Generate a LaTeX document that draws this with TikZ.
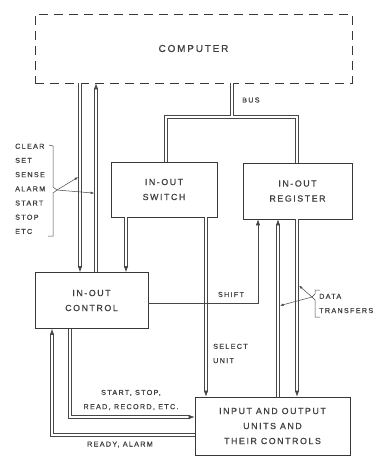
\documentclass[tikz,border=0pt]{standalone}
\usepackage{fontspec}
\setmainfont{Liberation Sans}[LetterSpace=18,FakeBold=0.8]
\usetikzlibrary{arrows.meta,calc}
\begin{document}
\begin{tikzpicture}[x=1pt,y=-1pt,
  box/.style={draw=black!78,line width=0.75pt,align=center,inner sep=0pt,text=black!75,
    font=\fontsize{8.8}{15}\selectfont},
  dbl/.style={draw=black!72,line width=0.7pt,double=white,double distance=2.3pt},
  sgl/.style={draw=black!72,line width=0.7pt},
  thin/.style={draw=black!72,line width=0.5pt},
  lbl/.style={inner sep=0pt,text=black!75,font=\fontsize{7.2}{14.2}\selectfont},
  >={Latex[length=6pt,width=4.6pt]},
  sm/.style={-{Latex[length=3.6pt,width=2.6pt]}}
]
\useasboundingbox (0,0) rectangle (377,456);

% boxes
\node[box,dashed,dash pattern=on 9pt off 6pt,minimum width=317pt,minimum height=69pt,
  font=\fontsize{10}{12}\selectfont] (comp) at (193.5,48.5) {COMPUTER};
\node[box,minimum width=106pt,minimum height=55pt] (sw) at (164,189.5) {IN-OUT\\SWITCH};
\node[box,minimum width=109pt,minimum height=56pt] (reg) at (297.5,191) {IN-OUT\\REGISTER};
\node[box,minimum width=113pt,minimum height=56pt] (ctl) at (91.5,300.5) {IN-OUT\\CONTROL};
\node[box,minimum width=155pt,minimum height=58pt] (io) at (272.5,426) {INPUT AND OUTPUT\\UNITS AND\\THEIR CONTROLS};

% coordinates for vertical runs
\coordinate (xa) at (80,0);
\coordinate (xb) at (96,0);
\coordinate (xc) at (126,0);
\coordinate (xd) at (206,0);
\coordinate (xe) at (278,0);
\coordinate (xf) at (297,0);
\coordinate (bj) at (232,116.2);
\coordinate (bl) at (166,117);
\coordinate (br) at (297,117);
\coordinate (sh) at (258,303);
\coordinate (p1) at (70,417);
\coordinate (p2) at (52,435);

% bus
\draw[dbl] (sw.north -| bl) -- (bl) -- (br) -- (reg.north -| br);
\draw[dbl] (comp.south -| bj) -- (bj);
\node[lbl,anchor=west] (bus) at (242,100) {BUS};

% computer <-> control
\draw[dbl,->] (comp.south -| xa) -- (ctl.north -| xa);
\draw[dbl,->] (ctl.north -| xb) -- (comp.south -| xb);

% switch -> control, switch -> io
\draw[dbl,->] (sw.south -| xc) -- (ctl.north -| xc);
\draw[dbl,->] (sw.south -| xd) -- (io.north -| xd);
\node[lbl,anchor=west,align=left] (sel) at (213,353.5) {SELECT\\UNIT};

% shift
\draw[sgl,->] (ctl.east |- sh) -- (sh) -- (reg.south -| sh);
\node[lbl] (shift) at (231,294.5) {SHIFT};

% register <-> io
\draw[dbl,->] (io.north -| xe) -- (reg.south -| xe);
\draw[dbl,->] (reg.south -| xf) -- (io.north -| xf);

% control <-> io (bottom left)
\draw[dbl,->] (ctl.south -| p1) -- (p1) -- (p1 -| io.west);
\draw[dbl,->] (p2 -| io.west) -- (p2) -- (ctl.south -| p2);
\node[lbl,align=center] (ssr) at (131,400) {START, STOP,\\READ, RECORD, ETC.};
\node[lbl] (ready) at (120,444.5) {READY, ALARM};

% left signal list with brace
\node[lbl,anchor=north west,align=left] (sig) at (15,143.5) {CLEAR\\SET\\SENSE\\ALARM\\START\\STOP\\ETC};
\coordinate (lb) at (57,190);
\draw[thin] (49,145) -- (53,146) -- (53,187) -- (lb) -- (53,193) -- (53,236) -- (48,236);
\draw[thin,sm] (lb) -- ($(ctl.north -| xa) + (-1.8,-95)$);
\draw[thin,sm] (lb) -- ($(ctl.north -| xb) + (-1.8,-79)$);

% data transfers with bracket
\node[lbl,anchor=west,align=left] (dt) at (319,303.5) {DATA\\TRANSFERS};
\coordinate (rb) at (312,297);
\draw[thin] (320,290) -- (315,290) -- (315,294) -- (rb) -- (315,300) -- (315,317) -- (320,317);
\draw[thin,sm] (rb) -- ($(io.north -| xf) + (2,-111)$);
\draw[thin,sm] (rb) -- ($(io.north -| xe) + (2,-91)$);
\end{tikzpicture}
\end{document}
